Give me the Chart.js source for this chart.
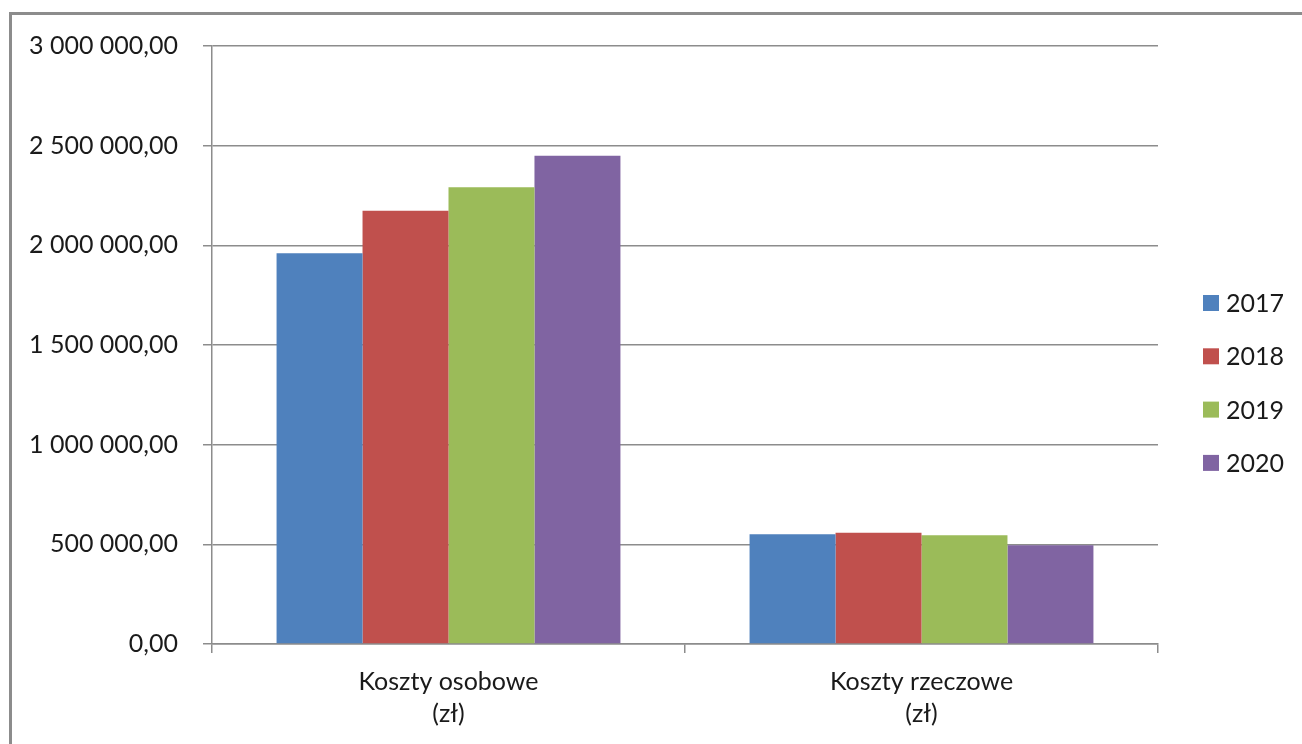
<!DOCTYPE html>
<html>
<head>
<meta charset="utf-8">
<script src="https://cdn.jsdelivr.net/npm/chart.js@4.4.0/dist/chart.umd.min.js"></script>
<style>
  html, body { margin: 0; padding: 0; background: #fff; overflow: hidden; }
  #ramka { position: absolute; left: 9px; top: 12px; width: 1400px; height: 800px; border: 3px solid #8c8c8c; box-sizing: border-box; }
  #wykres { position: absolute; left: 0; top: 0; }
</style>
</head>
<body>
<div id="ramka"></div>
<canvas id="wykres" width="1302" height="744"></canvas>
<script>
// kategorie i serie
const kategorie = [['Koszty osobowe', '(zł)'], ['Koszty rzeczowe', '(zł)']];
const lata = ['2017', '2018', '2019', '2020'];
const koszty2017 = [1960000, 550000];
const koszty2018 = [2174000, 558000];
const koszty2019 = [2292000, 545000];
const koszty2020 = [2450000, 495000];
const kolory = ['#4F81BD', '#C0504D', '#9BBB59', '#8064A2'];

const czcionka = 'Lato, "Open Sans", sans-serif';

// format 3 000 000,00
function formatuj(v) {
  const calosc = Math.round(v).toString().replace(/\B(?=(\d{3})+(?!\d))/g, ' ');
  return calosc + ',00';
}

// legenda rysowana recznie po prawej
const legendaPlugin = {
  id: 'legendaPrawa',
  afterDraw(chart) {
    const ctx = chart.ctx;
    ctx.save();
    ctx.font = '25px ' + czcionka;
    ctx.textBaseline = 'middle';
    chart.data.datasets.forEach((ds, i) => {
      const y = 303 + i * 53.3;
      ctx.fillStyle = ds.backgroundColor;
      ctx.fillRect(1203, y - 8, 16, 16);
      ctx.fillStyle = '#1a1a1a';
      ctx.fillText(ds.label, 1226, y + 1);
    });
    ctx.restore();
  }
};

const serie = [koszty2017, koszty2018, koszty2019, koszty2020];

const kontekst = document.getElementById('wykres').getContext('2d');
const wykres = new Chart(kontekst, {
  type: 'bar',
  data: {
    labels: kategorie,
    datasets: serie.map((dane, i) => ({
      label: lata[i],
      data: dane,
      backgroundColor: kolory[i],
      borderWidth: 0,
      categoryPercentage: 0.727,
      barPercentage: 1.0
    }))
  },
  options: {
    responsive: false,
    animation: false,
    layout: { padding: { top: 46, right: 144, left: 0, bottom: 0 } },
    plugins: {
      legend: { display: false },
      tooltip: { enabled: false }
    },
    scales: {
      y: {
        min: 0,
        max: 3000000,
        afterFit: (s) => { s.width = 212; },
        ticks: {
          stepSize: 500000,
          padding: 25,
          color: '#1a1a1a',
          font: { family: czcionka, size: 25 },
          callback: (v) => formatuj(v)
        },
        grid: { color: '#8c8c8c', lineWidth: 1.5, tickLength: 9 },
        border: { color: '#8c8c8c', width: 1.5 }
      },
      x: {
        afterFit: (s) => { s.height = 100; },
        ticks: {
          padding: 13,
          color: '#1a1a1a',
          font: { family: czcionka, size: 25, lineHeight: 1.28 }
        },
        grid: { drawOnChartArea: false, offset: true, color: '#8c8c8c', lineWidth: 1.5, tickLength: 9 },
        border: { color: '#8c8c8c', width: 1.5 }
      }
    }
  },
  plugins: [legendaPlugin]
});
</script>
</body>
</html>
